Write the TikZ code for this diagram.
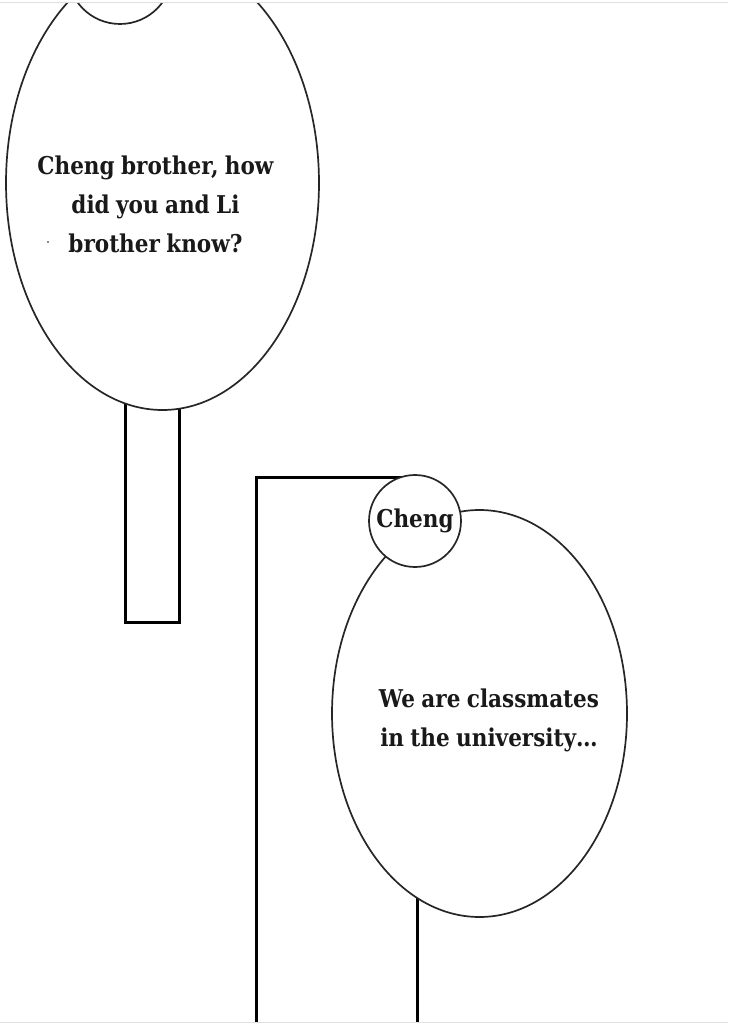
\documentclass[tikz,border=0pt]{standalone}
\usepackage{fontspec}
\setmainfont{DejaVu Serif}[FakeStretch=0.88]
\usetikzlibrary{shapes.geometric}
\newcommand\saytight{\spaceskip=0.26em plus 0.1em\relax}
\tikzset{
  bubble/.style={ellipse, draw=black!85, line width=1.7pt, fill=white, inner sep=0pt},
  namebub/.style={circle, draw=black!85, line width=1.7pt, fill=white, inner sep=0pt},
  tail/.style={draw=black, line width=3pt},
  say/.style={align=center, font={\fontsize{24.5}{39}\selectfont\bfseries\saytight}, text=black!90},
  frame/.style={draw=black!12, line width=1pt}
}
\begin{document}
\begin{tikzpicture}[x=1pt,y=-1pt]
\useasboundingbox (0,0) rectangle (728,1024);
\begin{scope}
\clip (0,3.5) rectangle (728,1022);
% first tail
\coordinate (t1a) at (125,380);
\coordinate (t1b) at (179,622);
\draw[tail] (t1a) rectangle (t1b);
\node[bubble, minimum width=313, minimum height=454] (b1) at (162.5,183) {};
\node[namebub, minimum size=105] (c1) at (120,-28.5) {};
% second frame and tail
\coordinate (f1) at (256,1030);
\coordinate (f2) at (256,477);
\coordinate (f3) at (415,477);
\draw[tail, line cap=rect] (f1) -- (f2) -- (f3);
\coordinate (t2a) at (417,713);
\coordinate (t2b) at (417,1030);
\draw[tail] (t2a) -- (t2b);
\node[bubble, minimum width=295, minimum height=407] (b2) at (479.5,713.5) {};
\node[namebub, minimum size=92] (c2) at (415,521) {};
\end{scope}
\node[say] at (c2) {Cheng};
\node[say] at (155.5,204) {Cheng brother, how\\did you and Li\\brother know?};
\node[say] at (489,720) {We are classmates\\in the university…};
\fill[black!60] (48,242) circle (1.2);
\draw[frame] (0,3) -- (728,3);
\draw[frame] (0,1022.5) -- (728,1022.5);
\end{tikzpicture}
\end{document}
